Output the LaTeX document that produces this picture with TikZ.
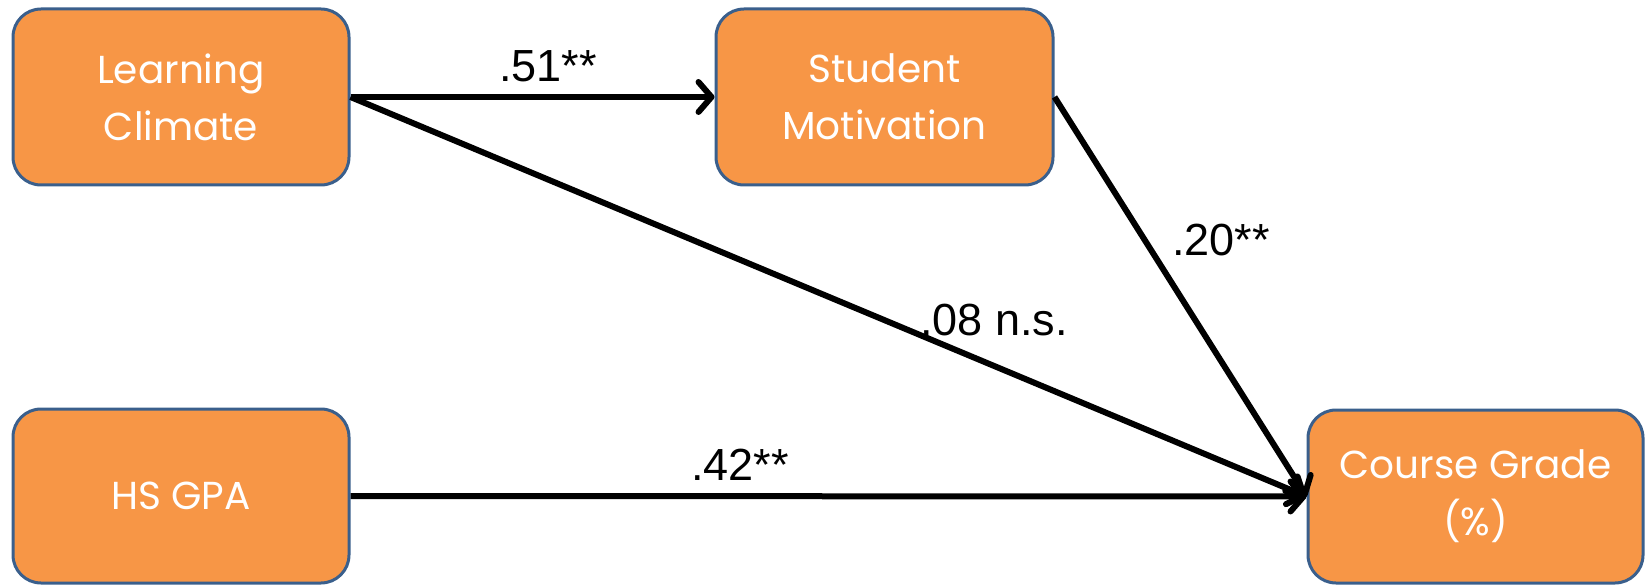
\documentclass[tikz,border=0pt]{standalone}
\usepackage{fontspec}
\setmainfont{Poppins}
\newfontfamily\labelfont{Liberation Sans}
\usetikzlibrary{arrows.meta}
\definecolor{boxfill}{HTML}{F79646}
\definecolor{boxline}{HTML}{3A5F8C}
\tikzset{
  varbox/.style={draw=boxline, fill=boxfill, line width=3pt, rounded corners=28pt,
    text=white, align=center, inner sep=0pt,
    font=\fontsize{39}{57}\selectfont},
  pathlabel/.style={font=\labelfont\fontsize{45}{50}\selectfont, inner sep=0pt, text=black},
  conn/.style={line width=6pt, -{Straight Barb[length=13pt,width=30pt,round]}}
}
\begin{document}
\begin{tikzpicture}[x=1pt,y=-1pt]
\useasboundingbox (0,0) rectangle (1648,585);
\node[varbox, minimum width=336pt, minimum height=176pt] (lc) at (181,97) {Learning\\Climate};
\node[varbox, minimum width=337pt, minimum height=176pt] (sm) at (884.5,97) {Student\\Motivation};
\node[varbox, minimum width=336pt, minimum height=174pt] (hs) at (181,496) {HS GPA};
\node[varbox, minimum width=335pt, minimum height=173pt] (cg) at (1475.5,496.5) {Course Grade\\(\%)};
\draw[conn] (lc.east) -- (sm.west);
\draw[conn] (lc.east) -- (cg.west);
\draw[conn] (sm.east) -- (cg.west);
\draw[conn] (hs.east) -- (cg.west);
\node[pathlabel] (l51) at (548,66) {.51**};
\node[pathlabel] (l20) at (1221,240) {.20**};
\node[pathlabel] (l08) at (994,320) {.08 n.s.};
\node[pathlabel] (l42) at (740,465) {.42**};
\end{tikzpicture}
\end{document}
